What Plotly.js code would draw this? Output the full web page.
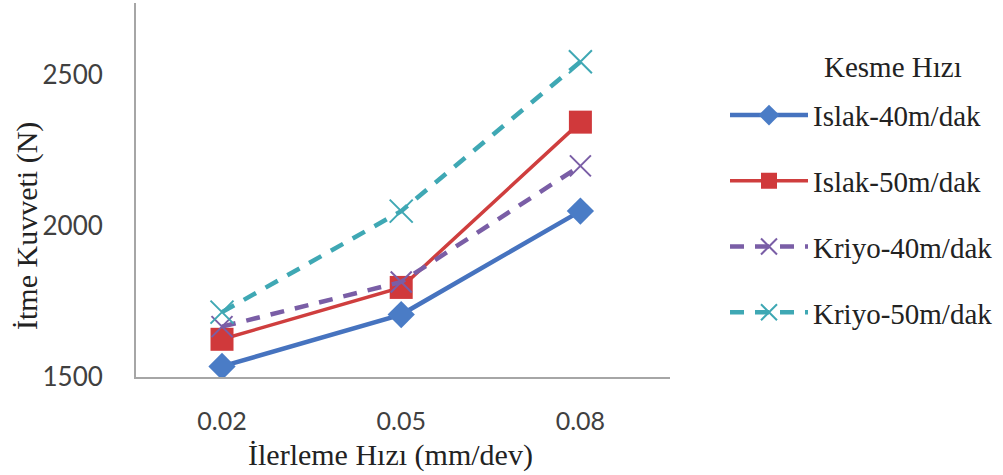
<!DOCTYPE html>
<html>
<head>
<meta charset="utf-8">
<script src="https://cdn.plot.ly/plotly-3.0.1.min.js"></script>
<style>html,body{margin:0;padding:0;background:#fff;}#chart{width:1003px;height:475px;}</style>
</head>
<body>
<div id="chart"></div>
<script>
const categories = ['0.02', '0.05', '0.08'];
const seriesNames = ['Islak-40m/dak', 'Islak-50m/dak', 'Kriyo-40m/dak', 'Kriyo-50m/dak'];
const islak40 = [1535, 1707, 2050];
const islak50 = [1625, 1797, 2345];
const kriyo40 = [1667, 1815, 2200];
const kriyo50 = [1715, 2050, 2545];
const yTicks = [1500, 2000, 2500];
const xTitle = 'İlerleme Hızı (mm/dev)';
const yTitle = 'İtme Kuvveti (N)';
const legendTitle = 'Kesme Hızı';

const serif = 'Liberation Serif, Times New Roman, serif';
const sans = 'Lato, Open Sans, sans-serif';

const traces = [
  {x: categories, y: islak40, name: seriesNames[0], legendgroup: 'a', mode: 'lines+markers', type: 'scatter',
   line: {color: '#4673bf', width: 4.5},
   marker: {symbol: 'diamond', size: 21, color: '#4a7cc6'}},
  {x: categories, y: islak50, name: seriesNames[1], legendgroup: 'b', mode: 'lines+markers', type: 'scatter',
   line: {color: '#cf3e3e', width: 3.5},
   marker: {symbol: 'square', size: 23, color: '#d0393b'}},
  {x: categories, y: kriyo40, name: seriesNames[2], legendgroup: 'c', mode: 'lines+markers', type: 'scatter',
   line: {color: '#7a5ea6', width: 4.5, dash: '14px,11px'},
   marker: {symbol: 'x-thin-open', size: 21, line: {color: '#9a82c4', width: 2}}},
  {x: categories, y: kriyo50, name: seriesNames[3], legendgroup: 'd', mode: 'lines+markers', type: 'scatter',
   line: {color: '#3fa8b4', width: 4.5, dash: '14px,11px'},
   marker: {symbol: 'x-thin-open', size: 23, line: {color: '#45b4c4', width: 2}}}
];

const layout = {
  width: 1003, height: 475,
  margin: {l: 136, r: 333, t: 3, b: 98},
  paper_bgcolor: '#ffffff', plot_bgcolor: '#ffffff',
  showlegend: true,
  xaxis: {
    type: 'category', range: [-0.48, 2.5],
    showline: true, linecolor: '#a6a6a6', linewidth: 2,
    showgrid: false, zeroline: false, ticks: '',
    ticklabelstandoff: 21,
    tickfont: {family: sans, size: 25, color: '#404040'}
  },
  yaxis: {
    range: [1500, 2740], tickvals: yTicks, ticktext: yTicks.map(String),
    showline: true, linecolor: '#a6a6a6', linewidth: 2,
    showgrid: false, zeroline: false, ticks: '',
    ticklabelstandoff: 26,
    tickfont: {family: sans, size: 26, color: '#404040'}
  },
  legend: {
    x: 1.103, xanchor: 'left', y: 0.768, yanchor: 'top',
    font: {family: serif, size: 29, color: '#222'},
    traceorder: 'grouped', tracegroupgap: 25,
    itemwidth: 78, bgcolor: 'rgba(0,0,0,0)'
  },
  annotations: [
    {text: legendTitle, xref: 'paper', yref: 'paper', x: 1.4176, y: 0.829, xanchor: 'center', yanchor: 'middle',
     showarrow: false, font: {family: serif, size: 29, color: '#222'}},
    {text: yTitle, xref: 'paper', yref: 'paper', x: -0.204, y: 0.404, xanchor: 'center', yanchor: 'middle',
     textangle: -90, showarrow: false, font: {family: serif, size: 30, color: '#222'}},
    {text: xTitle, xref: 'paper', yref: 'paper', x: 0.4775, y: -0.2086, xanchor: 'center', yanchor: 'middle',
     showarrow: false, font: {family: serif, size: 30, color: '#222'}}
  ]
};

Plotly.newPlot('chart', traces, layout, {displayModeBar: false, staticPlot: true});
</script>
</body>
</html>
